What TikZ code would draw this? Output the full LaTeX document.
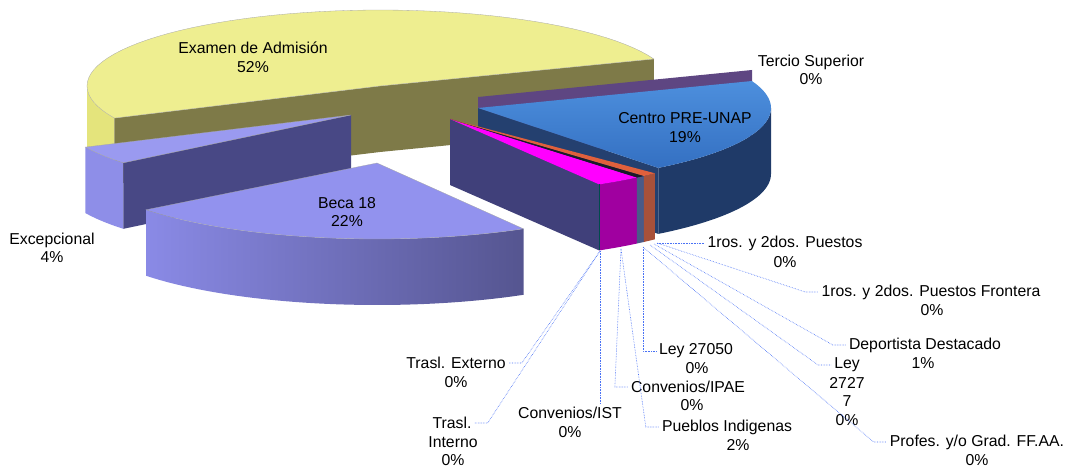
\documentclass[tikz,border=0pt]{standalone}
\usepackage{fontspec}
\setmainfont{Liberation Sans}
\usepackage{tikz}
\definecolor{yeltop}{HTML}{EEEE90}
\definecolor{yelside}{HTML}{E4E47C}
\definecolor{olivef}{HTML}{7E7A48}
\definecolor{terc}{HTML}{5E4682}
\definecolor{centopa}{HTML}{4D8FDD}
\definecolor{centopb}{HTML}{3470C2}
\definecolor{censide}{HTML}{1F3A68}
\definecolor{cenrad}{HTML}{24406F}
\definecolor{extop}{HTML}{9A9AF0}
\definecolor{exside}{HTML}{8E8EE8}
\definecolor{exrad}{HTML}{484885}
\definecolor{becatop}{HTML}{9292EE}
\definecolor{becal}{HTML}{8A8AE6}
\definecolor{becar}{HTML}{555590}
\definecolor{blkrad}{HTML}{40407A}
\definecolor{magtop}{HTML}{FF00FF}
\definecolor{magside}{HTML}{A000A0}
\definecolor{stltop}{HTML}{1A1A2A}
\definecolor{stlside}{HTML}{4A5A88}
\definecolor{orgtop}{HTML}{E0603C}
\definecolor{orgside}{HTML}{A8513A}
\definecolor{leadblue}{HTML}{4A72F5}

\begin{document}
\begin{tikzpicture}[x=1pt,y=-1pt]
	\tikzset{
		lbl/.style={font=\fontsize{15.8}{18.5}\selectfont, inner sep=3pt, align=center},
		leader/.style={draw=leadblue, densely dotted, line width=0.6pt},
		rim/.style={draw=black!35, line width=0.3pt}}
	\useasboundingbox (0,0) rectangle (1074,470);
	% Examen de Admision
	\fill[yelside] plot[domain=155:180,samples=20] ({380+293*cos(\x)},{86+76*sin(\x)}) -- plot[domain=180:155,samples=20] ({380+293*cos(\x)},{152+76*sin(\x)}) -- cycle;
	\fill[olivef] (380,86) -- (114.4,118.1) -- (114.4,184.1) -- (380,152) -- cycle;
	\fill[olivef] (380,86) -- (653.9,59) -- (653.9,125) -- (380,152) -- cycle;
	\path[fill=yeltop, rim] (380,86) -- plot[domain=155:339.2,samples=60] ({380+293*cos(\x)},{86+76*sin(\x)}) -- cycle;
	% Tercio Superior
	\fill[terc] (478,97) -- (752,70) -- (752,136) -- (478,163) -- cycle;
	% Centro PRE-UNAP
	\fill[cenrad] (478,108) -- (658.4,167.9) -- (658.4,233.9) -- (478,174) -- cycle;
	\fill[censide] plot[domain=0:52,samples=30] ({478+293*cos(\x)},{108+76*sin(\x)}) -- plot[domain=52:0,samples=30] ({478+293*cos(\x)},{174+76*sin(\x)}) -- cycle;
	\shade[top color=centopa, bottom color=centopb] (478,108) -- plot[domain=-20.8:52,samples=40] ({478+293*cos(\x)},{108+76*sin(\x)}) -- cycle;
	% Excepcional
	\fill[exside] plot[domain=141:155,samples=10] ({351+293*cos(\x)},{115+76*sin(\x)}) -- plot[domain=155:141,samples=10] ({351+293*cos(\x)},{181+76*sin(\x)}) -- cycle;
	\fill[exrad] (351,115) -- ({351+293*cos(141)},{115+76*sin(141)}) -- ({351+293*cos(141)},{181+76*sin(141)}) -- (351,181) -- cycle;
	\path[fill=extop, rim] (351,115) -- plot[domain=141:155,samples=10] ({351+293*cos(\x)},{115+76*sin(\x)}) -- cycle;
	% Beca 18
	\shade[left color=becal, right color=becar] plot[domain=60:142,samples=40] ({377+293*cos(\x)},{163+76*sin(\x)}) -- plot[domain=142:60,samples=40] ({377+293*cos(\x)},{229+76*sin(\x)}) -- cycle;
	\path[fill=becatop, rim] (377,163) -- plot[domain=60:142,samples=40] ({377+293*cos(\x)},{163+76*sin(\x)}) -- cycle;
	% small slices
	\fill[blkrad] (450,119) -- ({450+293*cos(59.4)},{119+76*sin(59.4)}) -- ({450+293*cos(59.4)},{185+76*sin(59.4)}) -- (450,185) -- cycle;
	\fill[magside] plot[domain=50.35:59.4,samples=8] ({450+293*cos(\x)},{119+76*sin(\x)}) -- plot[domain=59.4:50.35,samples=8] ({450+293*cos(\x)},{185+76*sin(\x)}) -- cycle;
	\fill[stlside] plot[domain=48.55:50.35,samples=4] ({450+293*cos(\x)},{119+76*sin(\x)}) -- plot[domain=50.35:48.55,samples=4] ({450+293*cos(\x)},{185+76*sin(\x)}) -- cycle;
	\fill[orgside] plot[domain=45.6:48.55,samples=4] ({450+293*cos(\x)},{119+76*sin(\x)}) -- plot[domain=48.55:45.6,samples=4] ({450+293*cos(\x)},{185+76*sin(\x)}) -- cycle;
	\fill[magtop] (450,119) -- plot[domain=50.35:59.4,samples=8] ({450+293*cos(\x)},{119+76*sin(\x)}) -- cycle;
	\fill[stltop] (450,119) -- plot[domain=48.55:50.35,samples=4] ({450+293*cos(\x)},{119+76*sin(\x)}) -- cycle;
	\fill[orgtop] (450,119) -- plot[domain=45.6:48.55,samples=4] ({450+293*cos(\x)},{119+76*sin(\x)}) -- cycle;
	\draw[teal!60!black, line width=0.5pt] ({450+293*cos(59.4)},{119+76*sin(59.4)}) -- ({450+293*cos(59.4)},{185+76*sin(59.4)});
	% labels on the slices
	\node[lbl] (examen) at (253,57.5) {Examen de Admisión\\52\%};
	\node[lbl] (tercio) at (811,70) {Tercio Superior\\0\%};
	\node[lbl] (centro) at (685,127.5) {Centro PRE-UNAP\\19\%};
	\node[lbl] (beca) at (347,212) {Beca 18\\22\%};
	\node[lbl] (excep) at (52,248) {Excepcional\\4\%};
	% labels with leaders
	\node[lbl] (pst) at (785,243) {1ros. y 2dos. Puestos};
	\node[lbl] (pstv) at (785,262) {0\%};
	\node[lbl] (fro) at (931,292) {1ros. y 2dos. Puestos Frontera};
	\node[lbl] (frov) at (932,310) {0\%};
	\node[lbl] (dep) at (925,345) {Deportista Destacado};
	\node[lbl] (depv) at (923,363) {1\%};
	\node[lbl] (l77) at (847,365) {Ley};
	\node[lbl] (l77v) at (847,401.5) {2727\\7\\0\%};
	\node[lbl] (ffaa) at (977,442) {Profes. y/o Grad. FF.AA.};
	\node[lbl] (ffaav) at (977,460) {0\%};
	\node[lbl] (l50) at (696,351) {Ley 27050};
	\node[lbl] (l50v) at (697,368) {0\%};
	\node[lbl] (ipae) at (688,387) {Convenios/IPAE};
	\node[lbl] (ipaev) at (692,405) {0\%};
	\node[lbl] (pue) at (727,427) {Pueblos Indigenas};
	\node[lbl] (puev) at (738,445) {2\%};
	\node[lbl] (ist) at (570,413) {Convenios/IST};
	\node[lbl] (istv) at (570,432) {0\%};
	\node[lbl] (ext) at (456,363) {Trasl. Externo};
	\node[lbl] (extv) at (456,382) {0\%};
	\node[lbl] (tin) at (452,423) {Trasl.};
	\node[lbl] (tinv) at (453,451) {Interno\\0\%};
	\coordinate (o1) at (600,251);
	\coordinate (o2) at (621,249);
	\coordinate (o3) at (643,247);
	\coordinate (o4) at (650,245);
	\coordinate (o5) at (654,244);
	\coordinate (o6) at (657,243);
	\draw[leader] (o6) -- ([xshift=-13]pst.west) -- (pst.west);
	\draw[leader] (o6) -- ([xshift=-13]fro.west) -- (fro.west);
	\draw[leader] (o5) -- ([xshift=-13]dep.west) -- (dep.west);
	\draw[leader] (o4) -- ([xshift=-13]l77.west) -- (l77.west);
	\draw[leader] (o3) -- ([xshift=-13]ffaa.west) -- (ffaa.west);
	\draw[leader] (o3) -- (o3 |- l50.west) -- (l50.west);
	\draw[leader] (o2) -- ([xshift=-13]ipae.west) -- (ipae.west);
	\draw[leader] (o2) -- ([xshift=-13]pue.west) -- (pue.west);
	\draw[leader] (o1) -- (o1 |- ist.north);
	\draw[leader] (o1) -- ([xshift=13]ext.east) -- (ext.east);
	\draw[leader] (o1) -- ([xshift=13]tin.east) -- (tin.east);
\end{tikzpicture}
\end{document}
